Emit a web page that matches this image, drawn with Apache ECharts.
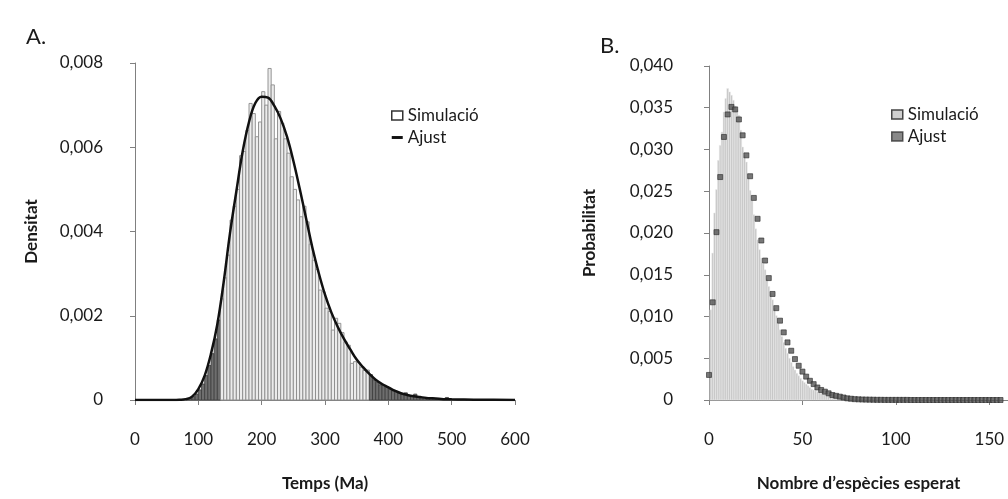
<!DOCTYPE html>
<html><head><meta charset="utf-8">
<script src="https://cdn.jsdelivr.net/npm/echarts@6/dist/echarts.min.js"></script>
<style>html,body{margin:0;padding:0;background:#fff}#c{width:1008px;height:499px}</style>
</head><body><div id="c"></div>
<script>
// ---------- Panel A data ----------
const histA_start = [80,85,90,95,100,105,110,115,120,125,130,135,140,145,150,155,160,165,170,175,180,185,190,195,200,205,210,215,220,225,230,235,240,245,250,255,260,265,270,275,280,285,290,295,300,305,310,315,320,325,330,335,340,345,350,355,360,365,370,375,380,385,390,395,400,405,410,415,420,425,430,435,440,445,450,455,460,465,470,475,480,485,490,495,500,505,510,515,520];
const histA_density = [0.00002,0.00004,0.00008,0.00014,0.00024,0.00038,0.00058,0.00082,0.0011,0.00145,0.0019,0.0024,0.0029,0.00344,0.00427,0.0046,0.0050,0.0058,0.0059,0.0064,0.00704,0.0068,0.00625,0.0066,0.00732,0.0070,0.00787,0.00748,0.0062,0.00685,0.00657,0.0062,0.00586,0.0053,0.0050,0.00475,0.00435,0.0046,0.00423,0.0037,0.00332,0.0031,0.00261,0.00257,0.00218,0.0021,0.00166,0.00194,0.00182,0.0016,0.00138,0.0013,0.00087,0.00091,0.0009,0.00078,0.0007,0.00071,0.0006,0.00048,0.00042,0.00036,0.00035,0.00032,0.00026,0.00022,0.0002,0.00017,0.00014,0.00017,0.00011,0.0001,0.00014,0.00007,0.00006,0.00006,0.00004,0.00004,0.00003,0.00003,0.00002,0.00002,0.00006,0.00001,0.00001,0.00001,0.00001,0.00001,0.00001];
const binWidthA = 5;
const tailLowA = 135, tailHighA = 370;
const fitA_x = [0,60,70,80,90,100,110,120,130,140,150,160,170,180,190,200,210,220,230,240,250,260,270,280,290,300,310,320,330,340,350,360,370,380,390,400,410,420,430,440,450,460,470,480,490,500,520,550,600];
const fitA_y = [0,0,0.000005,0.00002,0.00008,0.00026,0.00058,0.0011,0.0018,0.0028,0.00396,0.00495,0.0059,0.0066,0.00705,0.0072,0.00718,0.00698,0.00668,0.00625,0.00568,0.00502,0.00432,0.00362,0.00302,0.0025,0.00208,0.00174,0.00145,0.0012,0.00096,0.00078,0.00062,0.00048,0.00038,0.0003,0.00022,0.00016,0.00012,0.00009,0.00007,0.00005,0.00004,0.00003,0.00002,0.000015,0.00001,0.000005,0];
const yTickLabelsA = ['0','0,002','0,004','0,006','0,008'];
const xTickLabelsA = ['0','100','200','300','400','500','600'];

// ---------- Panel B data ----------
const simB_x = [1,2,3,4,5,6,7,8,9,10,11,12,13,14,15,16,17,18,19,20,21,22,23,24,25,26,27,28,29,30,31,32,33,34,35,36,37,38,39,40,41,42,43,44,45,46,47,48,49,50,51,52,53,54,55,56,57,58,59,60,61,62,63,64,65,66,67,68,69,70,71,72,73,74,75,76,77,78,79,80,81,82,83,84,85,86,87,88,89,90,91,92,93,94,95,96,97,98,99,100,101,102,103,104,105,106,107,108,109,110,111,112,113,114,115,116,117,118,119,120];
const simB_p = [0.0108,0.0176,0.0224,0.0252,0.0287,0.0305,0.0321,0.0345,0.0361,0.0373,
0.0369,0.0365,0.0359,0.0352,0.0348,0.0341,0.0323,0.0303,0.0293,0.0285,
0.0267,0.0251,0.0239,0.0222,0.0205,0.0192,0.0180,0.0170,0.0163,0.0156,
0.0145,0.0136,0.0128,0.0120,0.0110,0.0101,0.0092,0.0084,0.0076,0.0069,
0.0062,0.0056,0.0050,0.0045,0.0040,0.0036,0.0032,0.0029,0.0026,0.0023,
0.0021,0.0019,0.0017,0.0015,0.0013,0.0012,0.0011,0.0010,0.0009,0.0008,
0.0008,0.0007,0.0006,0.0006,0.0007,0.0008,0.0005,0.0004,0.0004,0.0003,
0.0003,0.0003,0.0002,0.0002,0.0002,0.00015,0.00015,0.00012,0.0001,0.0001,
0.00008,0.00008,0.00007,0.00006,0.00006,0.00005,0.00005,0.00004,0.00004,0.00004,
0.00003,0.00003,0.00003,0.00003,0.00003,0.00003,0.00003,0.00003,0.00003,0.00003,
0.00002,0.00002,0.00002,0.00002,0.00002,0.00002,0.00002,0.00002,0.00002,0.00002,
0.00001,0.00001,0.00001,0.00001,0.00001,0.00001,0.00001,0.00001,0.00001,0.00001];
const fitB_x = [0,2,4,6,8,10,12,14,16,18,20,22,24,26,28,30,32,34,36,38,40,42,44,46,48,50,52,54,56,58,60,62,64,66,68,70,72,74,76,78,80,82,84,86,88,90,92,94,96,98,100,102,104,106,108,110,112,114,116,118,120,122,124,126,128,130,132,134,136,138,140,142,144,146,148,150,152,154,156];
const fitB_p = [0.0030,0.0117,0.0201,0.0267,0.0315,0.0342,0.0351,0.0348,0.0336,0.0317,0.0293,0.0268,0.0242,0.0217,0.0191,0.0167,0.0146,0.0127,0.0110,0.0095,0.0081,0.0069,0.0059,0.0049,0.0041,0.0034,0.0028,0.0023,0.0019,0.0015,0.0012,0.0010,0.0008,0.0006,0.0005,0.0004,0.0003,0.0002,0.00015,0.0001,0.00008,0.00006,0.00005,0.00004,0.00003,0.00002,0.00002,0.00001,0.00001,0.00001,0.00001,0.00001,0.00001,0.00001,0,0,0,0,0,0,0,0,0,0,0,0,0,0,0,0,0,0,0,0,0,0,0,0,0];
const yTickLabelsB = ['0','0,005','0,010','0,015','0,020','0,025','0,030','0,035','0,040'];
const xTickLabelsB = ['0','50','100','150'];

// ---------- chart ----------
const FONT = 'Lato';
const TXT = '#1a1a1a';
const AX = '#808080';
const chart = echarts.init(document.getElementById('c'), null, {renderer:'canvas'});

function histItem(colorFn){
  return function(params, api){
    const x0 = api.value(0), x1 = api.value(1), y = api.value(2);
    const p0 = api.coord([x0, y]);
    const p1 = api.coord([x1, 0]);
    const c = colorFn(x0);
    return {type:'rect', shape:{x:p0[0], y:p0[1], width:p1[0]-p0[0], height:p1[1]-p0[1]},
      style:{fill:c.fill, stroke:c.stroke, lineWidth:c.lw}};
  };
}

const histAData = histA_start.map((s,i)=>[s, s+binWidthA, histA_density[i]]);
const simBData = simB_x.map((x,i)=>[x-0.5, x+0.5, simB_p[i]]);

const axisCommon = {
  axisLine:{show:true, lineStyle:{color:AX, width:1}},
  axisTick:{show:true, length:5, lineStyle:{color:AX}},
  splitLine:{show:false},
  axisLabel:{color:TXT, fontFamily:FONT, fontSize:17},
  nameTextStyle:{color:TXT, fontFamily:FONT, fontSize:17, fontWeight:'bold'}
};

const option = {
  animation:false,
  backgroundColor:'#fff',
  title:[
    {text:'A.', left:21, top:21, textStyle:{fontFamily:FONT, fontSize:22, fontWeight:'normal', color:TXT}},
    {text:'B.', left:595, top:30, textStyle:{fontFamily:FONT, fontSize:22, fontWeight:'normal', color:TXT}}
  ],
  legend:[
    {orient:'vertical', left:386, top:102, itemWidth:11, itemHeight:9, itemGap:5, symbolKeepAspect:true,
     textStyle:{fontFamily:FONT, fontSize:17, color:TXT}, selectedMode:false,
     data:[
       {name:'Simulació', icon:'rect', itemStyle:{color:'#fff', borderColor:'#333', borderWidth:1.5}},
       {name:'Ajust', icon:'path://M0,0 L12,0 L12,3.2 L0,3.2 Z', itemStyle:{color:'#111'}}
     ]},
    {orient:'vertical', left:886, top:101, itemWidth:11, itemHeight:9, itemGap:5, symbolKeepAspect:true,
     textStyle:{fontFamily:FONT, fontSize:17, color:TXT}, selectedMode:false,
     data:[
       {name:'Simulació ', icon:'rect', itemStyle:{color:'#cfcfcf', borderColor:'#444', borderWidth:1.5}},
       {name:'Ajust ', icon:'rect', itemStyle:{color:'#6a6a6a', borderColor:'#333', borderWidth:1.5}}
     ]}
  ],
  grid:[
    {left:135, top:63, width:380, height:337},
    {left:709, top:66, width:304, height:334}
  ],
  xAxis:[
    Object.assign({}, axisCommon, {type:'value', gridIndex:0, min:0, max:600, interval:100, offset:13,
      name:'Temps (Ma)', nameLocation:'middle', nameGap:62,
      axisLabel:Object.assign({}, axisCommon.axisLabel, {margin:18, formatter:(v)=>{const i=xTickLabelsA.indexOf(String(v)); return i>=0?xTickLabelsA[i]:'';}})}),
    Object.assign({}, axisCommon, {type:'value', gridIndex:1, min:0, max:160, interval:50, offset:13,
      name:'Nombre d’espècies esperat', nameLocation:'middle', nameGap:62,
      axisLabel:Object.assign({}, axisCommon.axisLabel, {margin:18, showMaxLabel:false, formatter:(v)=>{const i=xTickLabelsB.indexOf(String(v)); return i>=0?xTickLabelsB[i]:'';}})})
  ],
  yAxis:[
    Object.assign({}, axisCommon, {type:'value', gridIndex:0, min:0, max:0.008, interval:0.002, offset:15,
      name:'Densitat', nameLocation:'middle', nameGap:80,
      axisLabel:Object.assign({}, axisCommon.axisLabel, {margin:17, formatter:(v,i)=>yTickLabelsA[i]})}),
    Object.assign({}, axisCommon, {type:'value', gridIndex:1, min:0, max:0.040, interval:0.005, offset:21,
      name:'Probabilitat', nameLocation:'middle', nameGap:90,
      axisLabel:Object.assign({}, axisCommon.axisLabel, {margin:15, formatter:(v,i)=>yTickLabelsB[i]})})
  ],
  series:[
    {name:'Simulació', type:'custom', xAxisIndex:0, yAxisIndex:0, data:histAData,
     renderItem:histItem((x0)=> (x0 < tailLowA || x0 >= tailHighA)
        ? {fill:'#6e6e6e', stroke:'#3c3c3c', lw:0.8}
        : {fill:'#ececec', stroke:'#8a8a8a', lw:0.9}),
     encode:{x:[0,1], y:2}},
    {name:'Ajust', type:'line', xAxisIndex:0, yAxisIndex:0, data:fitA_x.map((x,i)=>[x, fitA_y[i]]),
     smooth:0.4, showSymbol:false, symbol:'none', lineStyle:{color:'#111', width:2.5}, z:5},
    {name:'Simulació ', type:'custom', xAxisIndex:1, yAxisIndex:1, data:simBData,
     renderItem:histItem(()=>({fill:'#c6c6c6', stroke:'#ececec', lw:0.5})),
     encode:{x:[0,1], y:2}},
    {name:'Ajust ', type:'scatter', xAxisIndex:1, yAxisIndex:1, data:fitB_x.map((x,i)=>[x, fitB_p[i]]),
     symbol:'rect', symbolSize:5, itemStyle:{color:'#555', borderColor:'#2e2e2e', borderWidth:0.8}, z:5}
  ]
};
chart.setOption(option);
</script>
</body></html>
